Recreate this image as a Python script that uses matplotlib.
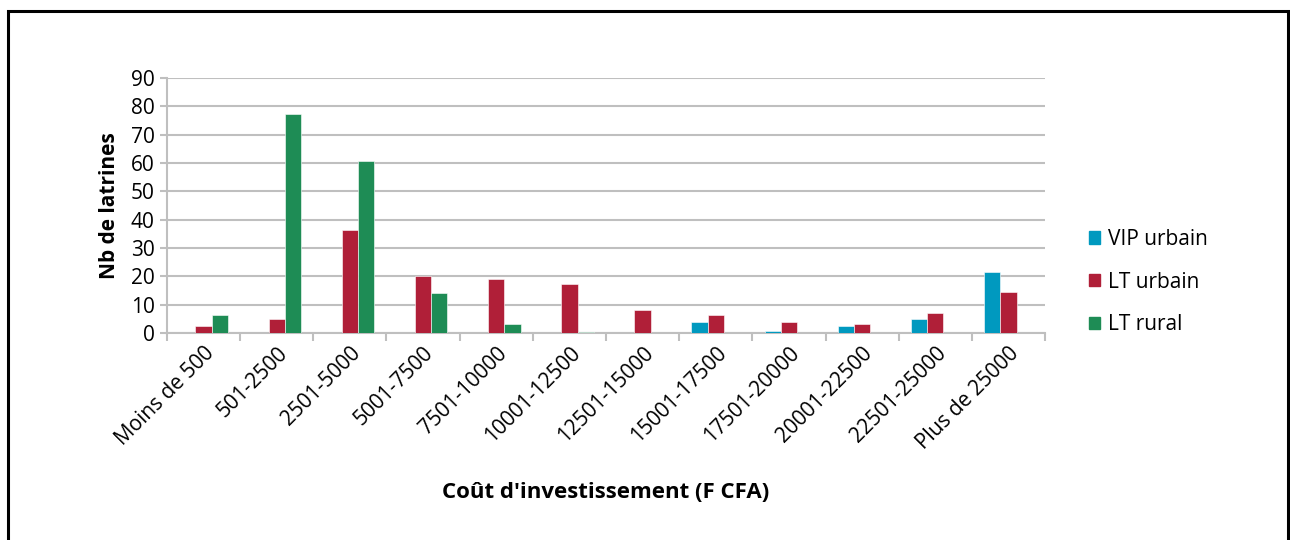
import matplotlib
matplotlib.use("Agg")
import matplotlib.pyplot as plt
from matplotlib.patches import Rectangle, Patch
import numpy as np

plt.rcParams['font.family'] = ['Open Sans', 'DejaVu Sans']

categories = ["Moins de 500", "501-2500", "2501-5000", "5001-7500", "7501-10000",
              "10001-12500", "12501-15000", "15001-17500", "17501-20000",
              "20001-22500", "22501-25000", "Plus de 25000"]
vip_urbain = [0, 0, 0, 0, 0, 0, 0, 4, 0.7, 2.5, 5, 21.4]
lt_urbain = [2.5, 4.8, 36.3, 20, 19, 17.4, 8, 6.4, 4, 3.2, 7.2, 14.3]
lt_rural = [6.3, 77.3, 60.8, 14.2, 3.2, 0.5, 0, 0, 0, 0, 0, 0]
series_names = ["VIP urbain", "LT urbain", "LT rural"]
yticks = [0, 10, 20, 30, 40, 50, 60, 70, 80, 90]

colors = ["#0099BF", "#B01F38", "#1E8C55"]
W, H = 1290, 540
FS = 15
fig = plt.figure(figsize=(W / 100, H / 100), dpi=100)
ax = fig.add_axes([167 / W, 1 - 333 / H, (1045 - 167) / W, (333 - 78) / H])

x = np.arange(len(categories))
bw = 0.222
for i, (vals, name, c) in enumerate(zip([vip_urbain, lt_urbain, lt_rural], series_names, colors)):
    ax.bar(x + (i - 1) * bw, vals, width=bw, color=c, label=name, zorder=3,
           edgecolor="white", linewidth=0.4)

ax.set_xlim(-0.5, len(categories) - 0.5)
ax.set_ylim(0, 90)
ax.set_yticks(yticks)
ax.yaxis.grid(True, color="#BFBFBF", linewidth=1.5, zorder=0)
ax.set_axisbelow(True)
for s in ["top", "right"]:
    ax.spines[s].set_visible(False)
for s in ["left", "bottom"]:
    ax.spines[s].set_color("#BFBFBF")
    ax.spines[s].set_linewidth(1.5)
ax.tick_params(axis="y", colors="#BFBFBF", length=5, width=1.5, labelcolor="black", labelsize=FS, pad=4)
ax.set_xticks(x)
ax.set_xticklabels(categories, rotation=45, ha="right", rotation_mode="anchor", fontsize=FS)
ax.tick_params(axis="x", which="major", length=0, pad=7)
ax.set_xticks(np.arange(-0.5, len(categories), 1), minor=True)
ax.tick_params(axis="x", which="minor", length=6, width=1.5, color="#BFBFBF")

ax.set_ylabel("Nb de latrines", fontsize=FS, fontweight="bold", labelpad=8)
fig.text(606 / W, 1 - 492 / H, "Coût d'investissement (F CFA)", ha="center", va="center",
         fontsize=16, fontweight="bold")

handles = [Patch(color=c) for c in colors]
fig.legend(handles, series_names, loc="center left", bbox_to_anchor=(1070 / W, 1 - 282 / H),
           frameon=False, fontsize=FS, handlelength=0.55, handleheight=0.55,
           handletextpad=0.35, labelspacing=1.05)

fig.patches.append(Rectangle((8 / W, -0.1), (1288 - 8) / W, 1.1 - 11 / H, transform=fig.transFigure,
                             fill=False, edgecolor="black", linewidth=2.2, clip_on=False))

fig.savefig("out.png", dpi=100)
